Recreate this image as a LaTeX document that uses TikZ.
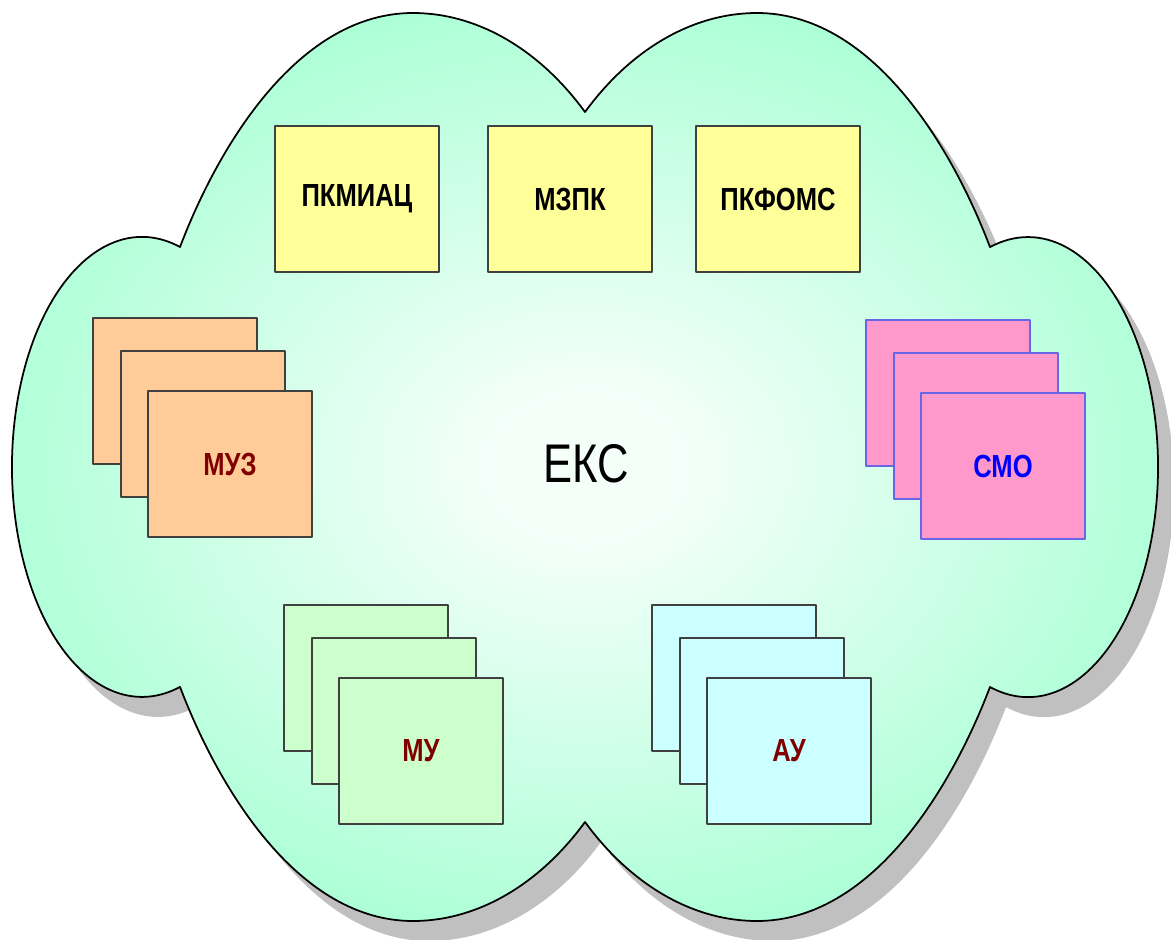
\documentclass[tikz,border=0pt]{standalone}
\usepackage{fontspec}
\setmainfont{Liberation Sans}
\newfontfamily\ekssans[FakeStretch=0.8]{Liberation Sans}
\definecolor{ekscloud}{RGB}{160,255,208}
\definecolor{ekscentre}{RGB}{244,255,250}
\definecolor{shadowgray}{RGB}{192,192,192}
\definecolor{paleyellow}{RGB}{255,255,153}
\definecolor{paleorange}{RGB}{255,204,153}
\definecolor{palegreen}{RGB}{204,255,204}
\definecolor{palecyan}{RGB}{204,255,255}
\definecolor{palepink}{RGB}{255,153,204}
\definecolor{pinkline}{RGB}{102,102,230}
\definecolor{boxline}{RGB}{64,64,64}
\definecolor{darkred}{RGB}{128,0,0}
\pgfdeclareradialshading{eksglow}{\pgfpoint{0bp}{0bp}}{color(0bp)=(ekscentre); color(4bp)=(ekscentre); color(30bp)=(ekscloud); color(50bp)=(ekscloud)}
\begin{document}
\begin{tikzpicture}[x=0.02cm, y=-0.02cm, line join=round, line cap=round,
	box/.style={draw=boxline, line width=0.7pt, minimum width=3.28cm, minimum height=2.92cm, inner sep=0pt, font=\ekssans\bfseries\fontsize{18.2}{20}\selectfont}]
	\useasboundingbox (0,0) rectangle (1171,940);
	\fill[white] (0,0) rectangle (1171,940);
	%облако
	\def\cloudpath{(585,112) .. controls (539,49) and (477,13) .. (413,13)
		.. controls (300,13) and (220,142) .. (180,247)
		arc[start angle=-73, end angle=-287, x radius=130, y radius=230]
		.. controls (220,792) and (300,921) .. (413,921)
		.. controls (477,921) and (539,885) .. (585,822)
		.. controls (631,885) and (693,921) .. (757,921)
		.. controls (870,921) and (950,792) .. (990,687)
		arc[start angle=107, end angle=-107, x radius=130, y radius=230]
		.. controls (950,142) and (870,13) .. (757,13)
		.. controls (693,13) and (631,49) .. (585,112) -- cycle}
	\fill[shadowgray, shift={(16,20)}] \cloudpath;
	\shade[shading=eksglow] \cloudpath;
	\draw[line width=1pt] \cloudpath;
	%верхний ряд
	\node[box, fill=paleyellow] (pkmiac) at (357,199) {ПКМИАЦ};
	\node[box, fill=paleyellow] (mzpk) at (570,199) {МЗПК};
	\node[box, fill=paleyellow] (pkfoms) at (778,199) {ПКФОМС};
	%стопки
	\foreach \nm/\cx/\cy/\fc/\dc/\tc/\txt in {muz/230/464/paleorange/boxline/darkred/МУЗ,
		smo/1003/466/palepink/pinkline/blue/СМО,
		mu/421/751/palegreen/boxline/darkred/МУ,
		au/789/751/palecyan/boxline/darkred/АУ}{
		\node[box, fill=\fc, draw=\dc] (\nm3) at (\cx-55,\cy-73) {};
		\node[box, fill=\fc, draw=\dc] (\nm2) at (\cx-27,\cy-40) {};
		\node[box, fill=\fc, draw=\dc, text=\tc] (\nm) at (\cx,\cy) {\txt};
	}
	\node[font=\ekssans\fontsize{31}{34}\selectfont] (eks) at (586,464) {ЕКС};
\end{tikzpicture}
\end{document}
